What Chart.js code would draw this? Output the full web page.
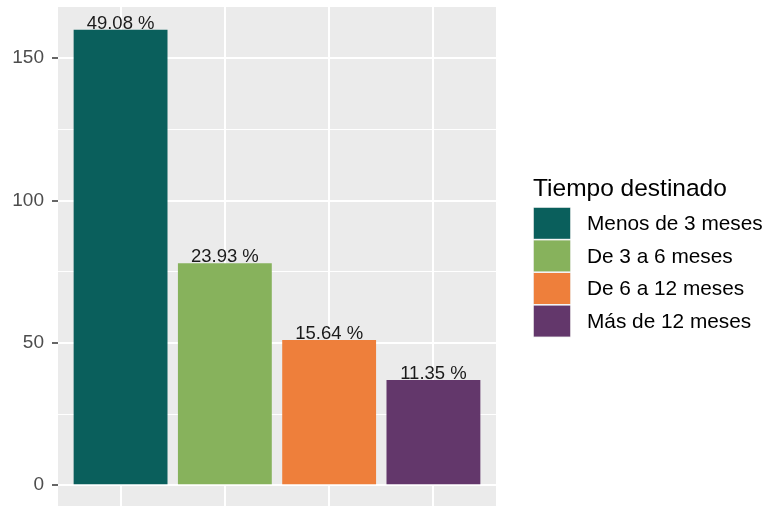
<!DOCTYPE html>
<html><head><meta charset="utf-8">
<script src="https://cdn.jsdelivr.net/npm/chart.js@4"></script>
<style>html,body{margin:0;padding:0;background:#fff;overflow:hidden}#wrap{width:769px;height:510px}</style>
</head><body><div id="wrap"><canvas id="c" width="769" height="510"></canvas></div>
<script>
const categories = ["Menos de 3 meses", "De 3 a 6 meses", "De 6 a 12 meses", "Más de 12 meses"];
const counts = [160, 78, 51, 37];
const percentLabels = ["49.08 %", "23.93 %", "15.64 %", "11.35 %"];
const yMajorTicks = [0, 50, 100, 150];
const yMinorTicks = [25, 75, 125];
const legendTitle = "Tiempo destinado";
const colors = ["#0A5F5C", "#87B25C", "#EE7F3B", "#63376B"];

const FONT = "'Liberation Sans', Arial, sans-serif";

const barLabels = {
  id: 'barLabels',
  afterDatasetsDraw(chart) {
    const ctx = chart.ctx;
    const meta = chart.getDatasetMeta(0);
    ctx.save();
    ctx.font = "18.5px " + FONT;
    ctx.fillStyle = "#1A1A1A";
    ctx.textAlign = "center";
    ctx.textBaseline = "alphabetic";
    meta.data.forEach((bar, i) => {
      ctx.fillText(percentLabels[i], bar.x, bar.y - 1);
    });
    ctx.restore();
  }
};

const sideLegend = {
  id: 'sideLegend',
  afterDraw(chart) {
    const ctx = chart.ctx;
    ctx.save();
    ctx.fillStyle = "#000";
    ctx.font = "24.5px " + FONT;
    ctx.textAlign = "left";
    ctx.textBaseline = "alphabetic";
    ctx.fillText(legendTitle, 533, 196);
    const top = 207, h = 32.6, x = 533, w = 38;
    categories.forEach((c, i) => {
      const y = top + i * h;
      ctx.fillStyle = "#F2F2F2";
      ctx.fillRect(x, y, w, h);
      ctx.fillStyle = colors[i];
      ctx.fillRect(x + 0.8, y + 0.8, w - 1.6, h - 1.6);
      ctx.fillStyle = "#000";
      ctx.font = "20.8px " + FONT;
      ctx.textBaseline = "middle";
      ctx.fillText(c, 587, y + h / 2 + 1);
    });
    ctx.restore();
  }
};

const panelBg = {
  id: 'panelBg',
  beforeDraw(chart) {
    const {ctx, chartArea: a} = chart;
    ctx.save();
    ctx.fillStyle = "#EBEBEB";
    ctx.fillRect(a.left, a.top, a.right - a.left, a.bottom - a.top);
    ctx.restore();
  }
};

function noPad(s) { s.paddingTop = 0; s.paddingBottom = 0; s.paddingLeft = 0; s.paddingRight = 0; }

new Chart(document.getElementById('c'), {
  type: 'bar',
  data: {
    datasets: [{
      data: counts.map((v, i) => ({x: i, y: v})),
      backgroundColor: colors,
      borderWidth: 0,
      barPercentage: 0.9,
      categoryPercentage: 1.0
    }]
  },
  options: {
    responsive: false,
    animation: false,
    devicePixelRatio: 1,
    layout: {padding: {left: 0, right: 273, top: 7, bottom: 2}},
    plugins: {legend: {display: false}, tooltip: {enabled: false}},
    scales: {
      x: {
        type: 'linear',
        offset: false,
        min: -0.6,
        max: 3.6,
        afterBuildTicks(s) { s.ticks = categories.map((c, i) => ({value: i})); },
        afterFit(s) { s.height = 0; noPad(s); },
        ticks: {display: false},
        grid: {color: '#FFFFFF', lineWidth: 2, drawTicks: false, offset: false},
        border: {display: false}
      },
      y: {
        min: -8,
        max: 168,
        afterBuildTicks(s) {
          s.ticks = yMajorTicks.concat(yMinorTicks).sort((a, b) => a - b).map(v => ({value: v}));
        },
        afterFit(s) { s.width = 58; noPad(s); },
        ticks: {
          color: '#4D4D4D',
          font: {family: FONT, size: 19},
          padding: 8,
          callback: (v) => yMajorTicks.includes(v) ? String(v) : ''
        },
        grid: {
          color: '#FFFFFF',
          lineWidth: (c) => (c.tick && yMajorTicks.includes(c.tick.value)) ? 2 : 1,
          tickColor: (c) => (c.tick && yMajorTicks.includes(c.tick.value)) ? '#333333' : 'rgba(0,0,0,0)',
          tickLength: 6,
          tickWidth: 1.5
        },
        border: {display: false}
      }
    }
  },
  plugins: [panelBg, barLabels, sideLegend]
});
</script>
</body></html>
